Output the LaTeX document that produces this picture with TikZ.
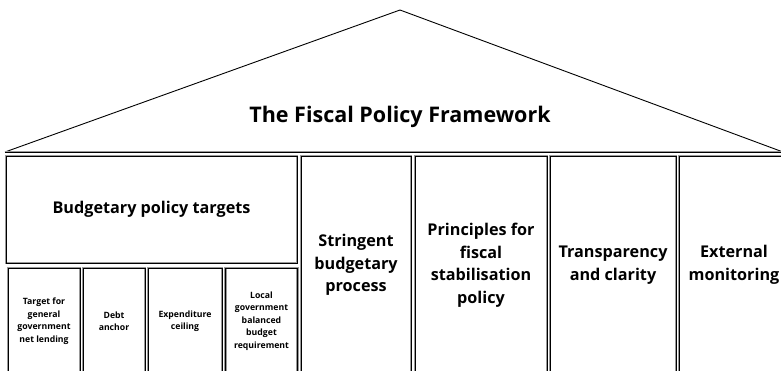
\documentclass[tikz,border=0pt]{standalone}
\usepackage{fontspec}
\setmainfont{Open Sans}

\tikzset{
  pillar/.style={draw=black, line width=0.8pt,
    preaction={draw=black!40, line width=2.2pt},
    inner sep=2pt, align=center},
  bigpillar/.style={pillar, font=\bfseries\fontsize{16.2}{22.5}\selectfont},
  smallpillar/.style={pillar, font=\bfseries\fontsize{8.7}{12.5}\selectfont},
}

\begin{document}
\begin{tikzpicture}[x=1pt,y=-1pt]
    \clip (0,0) rectangle (781,370);

    % the roof
    \coordinate (eaveL) at (5,152);
    \coordinate (apex) at (400,10);
    \coordinate (eaveR) at (783,152);
    \draw[line width=0.9pt] (eaveL) -- (apex) -- (eaveR);
    \draw[black, line width=0.8pt, preaction={draw=black!40, line width=2.2pt}] (eaveL) -- (eaveR);
    \node[font=\bfseries\fontsize{21.5}{26}\selectfont] (title) at (400,117) {The Fiscal Policy Framework};

    % left column with its four sub-targets
    \node[bigpillar, minimum width=291, minimum height=107] (targets) at (151.5,209.5) {Budgetary policy targets};
    \node[smallpillar, minimum width=72, minimum height=106] (lending) at (44,321) {Target for\\general\\government\\net lending};
    \node[smallpillar, minimum width=62, minimum height=106] (debt) at (114,321) {Debt\\anchor};
    \node[smallpillar, minimum width=74, minimum height=106] (ceiling) at (185,321) {Expenditure\\ceiling};
    \node[smallpillar, minimum width=72, minimum height=106] (local) at (261.5,321) {Local\\government\\balanced\\budget\\requirement};

    % the other pillars
    \node[bigpillar, minimum width=110, minimum height=218] (process) at (356,265) {Stringent\\budgetary\\process};
    \node[bigpillar, minimum width=132, minimum height=218] (stabilisation) at (481,265) {Principles for\\fiscal\\stabilisation\\policy};
    \node[bigpillar, minimum width=126, minimum height=218] (transparency) at (613,265) {Transparency\\and clarity};
    \node[bigpillar, minimum width=110, minimum height=218] (monitoring) at (734,265) {External\\monitoring};
\end{tikzpicture}
\end{document}
